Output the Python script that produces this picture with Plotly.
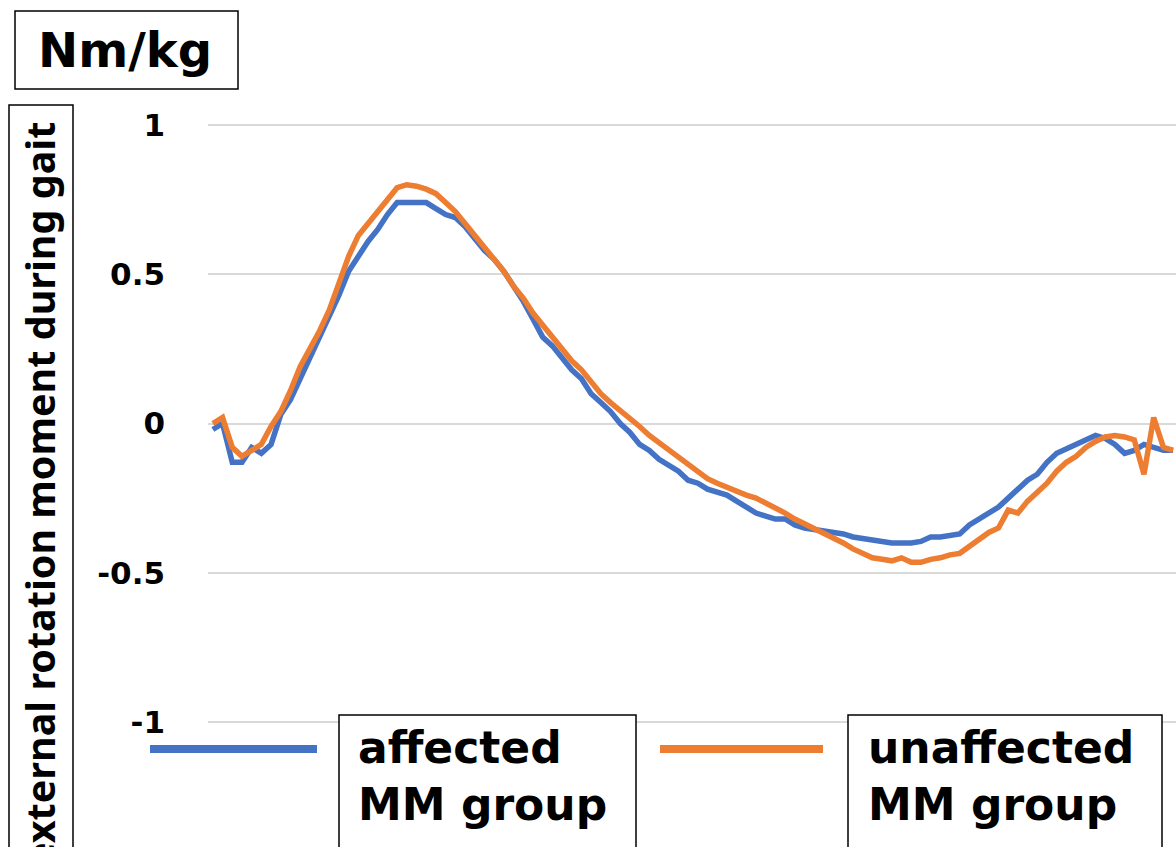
import plotly.graph_objects as go

# ---------------- data ----------------
gait_pct = list(range(100))

affected = [
    -0.02, 0.00, -0.13, -0.13, -0.08, -0.10, -0.07, 0.03, 0.08, 0.15,
    0.22, 0.29, 0.35, 0.43, 0.51, 0.56, 0.61, 0.65, 0.70, 0.74,
    0.74, 0.74, 0.74, 0.72, 0.70, 0.69, 0.66, 0.62, 0.58, 0.55,
    0.51, 0.46, 0.41, 0.35, 0.29, 0.26, 0.22, 0.18, 0.15, 0.10,
    0.07, 0.04, 0.00, -0.03, -0.07, -0.09, -0.12, -0.14, -0.16, -0.19,
    -0.20, -0.22, -0.23, -0.24, -0.26, -0.28, -0.30, -0.31, -0.32, -0.32,
    -0.34, -0.35, -0.355, -0.36, -0.365, -0.37, -0.38, -0.385, -0.39, -0.395,
    -0.40, -0.40, -0.40, -0.395, -0.38, -0.38, -0.375, -0.37, -0.34, -0.32,
    -0.30, -0.28, -0.25, -0.22, -0.19, -0.17, -0.13, -0.10, -0.085, -0.07,
    -0.05, -0.04, -0.05, -0.07, -0.10, -0.09, -0.07, -0.08, -0.09, -0.09,
]

unaffected = [
    0.00, 0.02, -0.08, -0.11, -0.09, -0.07, -0.01, 0.04, 0.11, 0.19,
    0.25, 0.31, 0.38, 0.47, 0.56, 0.63, 0.67, 0.71, 0.75, 0.79,
    0.80, 0.795, 0.785, 0.77, 0.74, 0.71, 0.67, 0.63, 0.59, 0.55,
    0.51, 0.46, 0.42, 0.37, 0.33, 0.29, 0.25, 0.21, 0.18, 0.14,
    0.10, 0.07, 0.045, 0.02, -0.01, -0.04, -0.065, -0.09, -0.115, -0.14,
    -0.165, -0.185, -0.20, -0.215, -0.23, -0.24, -0.25, -0.265, -0.285, -0.30,
    -0.32, -0.335, -0.35, -0.37, -0.385, -0.40, -0.42, -0.435, -0.45, -0.455,
    -0.46, -0.45, -0.465, -0.465, -0.455, -0.45, -0.44, -0.435, -0.41, -0.385,
    -0.365, -0.35, -0.29, -0.30, -0.26, -0.23, -0.20, -0.16, -0.13, -0.11,
    -0.08, -0.06, -0.045, -0.04, -0.045, -0.055, -0.17, 0.02, -0.08, -0.09,
]

y_ticks = [-1, -0.5, 0, 0.5, 1]
y_tick_labels = ["-1", "-0.5", "0", "0.5", "1"]

series_names = ["affected<br>MM group", "unaffected<br>MM group"]
series_colors = ["#4472C4", "#ED7D31"]
unit_label = "Nm/kg"
y_title = "external rotation moment during gait"

# ---------------- layout geometry ----------------
FIG_W, FIG_H = 1176, 847
L, T, W, H = 208, 122, 968, 603


def xp(px):
    return (px - L) / W


def yp(py):
    return (T + H - py) / H


fig = go.Figure()
for vals, name, col in zip([affected, unaffected], series_names, series_colors):
    fig.add_trace(go.Scatter(
        x=gait_pct, y=vals, mode="lines", name=name,
        line=dict(color=col, width=5.5), showlegend=False,
    ))

fig.update_layout(
    width=FIG_W, height=FIG_H,
    margin=dict(l=L, r=FIG_W - L - W, t=T, b=FIG_H - T - H),
    paper_bgcolor="white", plot_bgcolor="white",
    xaxis=dict(range=[-0.5, 99.3], visible=False),
    yaxis=dict(
        range=[-1.01, 1.01], tickvals=y_ticks, ticktext=y_tick_labels,
        showgrid=True, gridcolor="#d9d9d9", gridwidth=2,
        zeroline=False, showline=False, ticks="",
        ticklabelstandoff=42,
        tickfont=dict(family="DejaVu Sans", size=31, color="black", weight="bold"),
    ),
    font=dict(family="DejaVu Sans"),
)

shapes = []
annotations = []

# unit box
shapes.append(dict(type="rect", xref="paper", yref="paper",
                   x0=xp(15), x1=xp(238), y0=yp(89), y1=yp(11),
                   line=dict(color="black", width=1.5), fillcolor="white"))
annotations.append(dict(text=f"<b>{unit_label}</b>", xref="paper", yref="paper",
                        x=xp(125), y=yp(50), showarrow=False,
                        xanchor="center", yanchor="middle",
                        font=dict(family="DejaVu Sans", size=48, color="black")))

# y-axis title box (clipped at the bottom, as in the reference)
shapes.append(dict(type="rect", xref="paper", yref="paper",
                   x0=xp(9), x1=xp(73), y0=yp(870), y1=yp(105),
                   line=dict(color="black", width=1.5)))
annotations.append(dict(text=f"<b>{y_title}</b>", xref="paper", yref="paper",
                        x=xp(40), y=yp(120), showarrow=False, textangle=-90,
                        xanchor="center", yanchor="top",
                        font=dict(family="Noto Sans", size=39.5, color="black")))

# legend
legend_items = [
    dict(line_x=(150, 317), box=(339, 636), text_x=356),
    dict(line_x=(660, 823), box=(848, 1162), text_x=866),
]
for item, name, col in zip(legend_items, series_names, series_colors):
    shapes.append(dict(type="line", xref="paper", yref="paper",
                       x0=xp(item["line_x"][0]), x1=xp(item["line_x"][1]),
                       y0=yp(749), y1=yp(749),
                       line=dict(color=col, width=8)))
    shapes.append(dict(type="rect", xref="paper", yref="paper",
                       x0=xp(item["box"][0]), x1=xp(item["box"][1]),
                       y0=yp(870), y1=yp(715),
                       line=dict(color="black", width=1.5), fillcolor="white"))
    annotations.append(dict(text=f"<b>{name}</b>", xref="paper", yref="paper",
                            x=xp(item["text_x"]), y=yp(720), showarrow=False,
                            xanchor="left", yanchor="top", align="left",
                            font=dict(family="DejaVu Sans", size=44, color="black")))

fig.update_layout(shapes=shapes, annotations=annotations)
fig.write_html("out.html", config={"displayModeBar": False},
               post_script="document.body.style.margin='0px';document.body.style.overflow='hidden';")
